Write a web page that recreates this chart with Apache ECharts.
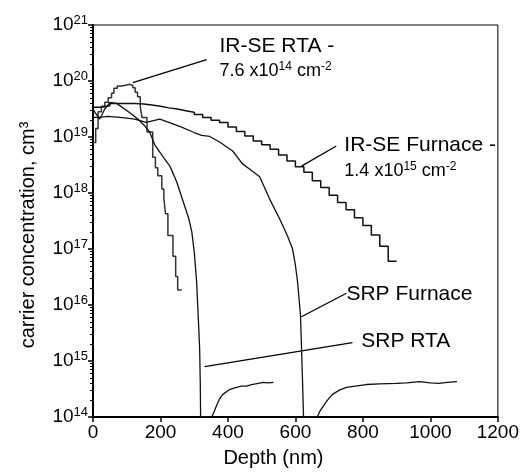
<!DOCTYPE html>
<html>
<head>
<meta charset="utf-8">
<script src="https://cdn.jsdelivr.net/npm/echarts@6/dist/echarts.min.js"></script>
<style>
  html, body { margin: 0; padding: 0; background: #fff; }
  #chart { width: 522px; height: 473px; }
</style>
</head>
<body>
<div id="chart"></div>
<script>
// depth in nm, concentration as log10 exponent
var irseRtaDepth = [0, 8, 15, 25, 35, 45, 55, 62, 72, 85, 100, 110, 118, 125, 132, 140, 145, 160, 177, 185, 192, 204, 210, 215, 222, 237, 245, 251, 263];
var irseRtaExp = [18.9, 19.15, 19.45, 19.55, 19.62, 19.7, 19.78, 19.87, 19.91, 19.93, 19.94, 19.92, 19.88, 19.8, 19.72, 19.55, 19.35, 19.09, 18.64, 18.45, 18.31, 18.07, 17.9, 17.63, 17.24, 16.87, 16.51, 16.27, 16.27];

var irseFurnDepth = [0, 25, 50, 75, 100, 125, 150, 175, 200, 225, 250, 275, 300, 325, 350, 375, 400, 425, 450, 475, 500, 525, 550, 575, 600, 625, 650, 675, 700, 725, 750, 775, 800, 825, 850, 875, 900];
var irseFurnExp = [19.53, 19.56, 19.6, 19.6, 19.6, 19.59, 19.57, 19.55, 19.52, 19.5, 19.47, 19.44, 19.4, 19.35, 19.3, 19.26, 19.18, 19.1, 19.02, 18.93, 18.86, 18.78, 18.68, 18.57, 18.47, 18.37, 18.22, 18.1, 17.96, 17.83, 17.7, 17.56, 17.42, 17.25, 17.05, 16.78, 16.78];

var srpRtaDepth = [0, 8, 20, 35, 50, 70, 103, 133, 150, 168, 183, 198, 213, 228, 248, 266, 284, 293, 300, 307, 313, 316, 318, 319, 335, 352, 358, 366, 375, 384, 405, 420, 440, 455, 470, 490, 503, 520, 535];
var srpRtaExp = [19.5, 19.42, 19.32, 19.5, 19.62, 19.6, 19.46, 19.32, 19.22, 19.09, 18.86, 18.73, 18.6, 18.48, 18.2, 17.87, 17.54, 17.3, 16.95, 16.43, 15.65, 15.24, 14.6, 14.0, 14.0, 14.0, 14.08, 14.2, 14.32, 14.4, 14.49, 14.52, 14.55, 14.55, 14.58, 14.6, 14.62, 14.61, 14.62];

var srpFurnDepth = [0, 20, 44, 80, 124, 157, 198, 257, 300, 322, 346, 375, 414, 443, 464, 494, 523, 553, 576, 591, 600, 606, 615, 618, 621, 624, 645, 665, 672, 680, 695, 709, 730, 751, 810, 850, 899, 930, 967, 1000, 1026, 1050, 1079];
var srpFurnExp = [19.35, 19.35, 19.37, 19.35, 19.32, 19.26, 19.32, 19.19, 19.08, 19.03, 19.01, 18.91, 18.75, 18.52, 18.43, 18.29, 17.9, 17.54, 17.24, 17.01, 16.71, 16.43, 15.82, 15.24, 14.65, 14.0, 14.0, 14.0, 14.1, 14.17, 14.3, 14.4, 14.48, 14.53, 14.58, 14.59, 14.6, 14.61, 14.63, 14.61, 14.6, 14.62, 14.63];

var xTicks = [0, 200, 400, 600, 800, 1000, 1200];

// leader lines: [depth, exp] -> [depth, exp]
var leaders = [
  [[118, 19.97], [337, 20.38]],
  [[618, 18.48], [721, 18.84]],
  [[618, 15.79], [751, 16.21]],
  [[331, 14.90], [769, 15.33]]
];
// annotation text anchors (left, middle)
var notes = [
  { at: [375, 20.62], text: '{t|IR-SE RTA -}' },
  { at: [375, 20.18], text: '{u|7.6 x10}{s|14}{u| cm}{s|-2}' },
  { at: [745, 18.85], text: '{t|IR-SE Furnace -}' },
  { at: [745, 18.40], text: '{u|1.4 x10}{s|15}{u| cm}{s|-2}' },
  { at: [751, 16.20], text: '{t|SRP Furnace}' },
  { at: [795, 15.35], text: '{t|SRP RTA}' }
];

function pairs(xs, es) {
  var out = [];
  for (var i = 0; i < xs.length; i++) out.push([xs[i], Math.pow(10, es[i])]);
  return out;
}

var font = 'Liberation Sans, Arial, sans-serif';
var chart = echarts.init(document.getElementById('chart'));

var option = {
  backgroundColor: '#fff',
  animation: false,
  grid: { left: 93, right: 23, top: 25, bottom: 53, show: true, borderColor: '#000', borderWidth: 1 },
  xAxis: {
    type: 'value', min: 0, max: 1200, interval: 200,
    axisLine: { lineStyle: { color: '#000', width: 2 } },
    axisTick: { length: 5, lineStyle: { color: '#000', width: 1.5 } },
    axisLabel: { color: '#000', fontSize: 19, fontFamily: font, margin: 6,
      formatter: function (v) { return xTicks.indexOf(v) >= 0 ? String(v) : ''; } },
    splitLine: { show: false },
    name: 'Depth (nm)', nameLocation: 'middle', nameGap: 31,
    nameTextStyle: { color: '#000', fontSize: 20, fontFamily: font, padding: [0, 44, 0, 0] }
  },
  yAxis: {
    type: 'log', logBase: 10, min: 1e14, max: 1e21,
    axisLine: { lineStyle: { color: '#000', width: 2 } },
    axisTick: { length: 5, lineStyle: { color: '#000', width: 1.5 } },
    minorTick: { show: true, splitNumber: 9, length: 3, lineStyle: { color: '#000' } },
    axisLabel: { margin: 5,
      formatter: function (v) { return '{b|10}{s|' + Math.round(Math.log10(v)) + '}'; },
      rich: {
        b: { fontSize: 19, color: '#000', fontFamily: font, lineHeight: 22 },
        s: { fontSize: 13, color: '#000', fontFamily: font, verticalAlign: 'top', lineHeight: 13 }
      } },
    splitLine: { show: false },
    name: 'carrier concentration, cm³', nameLocation: 'middle', nameGap: 55,
    nameTextStyle: { color: '#000', fontSize: 20, fontFamily: font, padding: [0, 28, 0, 0] }
  },
  series: [
    { name: 'IR-SE RTA', type: 'line', step: 'end', showSymbol: false,
      lineStyle: { color: '#333', width: 1.5 }, data: pairs(irseRtaDepth, irseRtaExp),
      markLine: { silent: true, symbol: 'none', label: { show: false },
        lineStyle: { color: '#000', width: 1.3, type: 'solid' },
        data: leaders.map(function (l) {
          return [{ coord: [l[0][0], Math.pow(10, l[0][1])] }, { coord: [l[1][0], Math.pow(10, l[1][1])] }];
        }) } },
    { name: 'IR-SE Furnace', type: 'line', step: 'end', showSymbol: false,
      lineStyle: { color: '#111', width: 1.5 }, data: pairs(irseFurnDepth, irseFurnExp) },
    { name: 'SRP RTA', type: 'line', showSymbol: false,
      lineStyle: { color: '#111', width: 1.3 }, data: pairs(srpRtaDepth, srpRtaExp) },
    { name: 'SRP Furnace', type: 'line', showSymbol: false,
      lineStyle: { color: '#111', width: 1.3 }, data: pairs(srpFurnDepth, srpFurnExp) }
  ]
};
chart.setOption(option);

var rich = {
  t: { fontSize: 21, fill: '#000', fontFamily: font, lineHeight: 24 },
  u: { fontSize: 18, fill: '#000', fontFamily: font, lineHeight: 20 },
  s: { fontSize: 12, fill: '#000', fontFamily: font, verticalAlign: 'top', lineHeight: 12 }
};
chart.setOption({
  graphic: notes.map(function (n) {
    var p = chart.convertToPixel({ gridIndex: 0 }, [n.at[0], Math.pow(10, n.at[1])]);
    return { type: 'text', x: p[0], y: p[1], silent: true,
      style: { text: n.text, rich: rich, align: 'left', verticalAlign: 'middle', fill: '#000' } };
  })
});
</script>
</body>
</html>
